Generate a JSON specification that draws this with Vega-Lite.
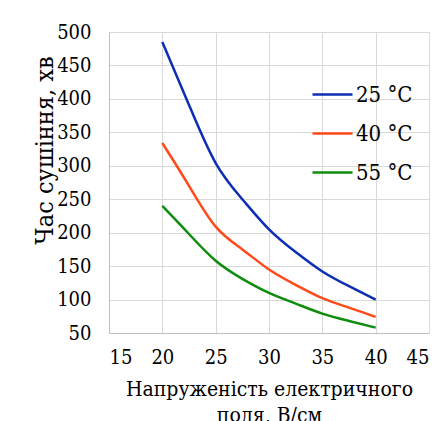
{
  "$schema": "https://vega.github.io/schema/vega-lite/v6.json",
  "width": 320,
  "height": 301,
  "autosize": {"type": "none"},
  "padding": {"left": 109, "top": 32, "right": 14, "bottom": 88},
  "background": "white",
  "config": {
    "font": "'DejaVu Serif Condensed', 'DejaVu Serif'",
    "view": {"stroke": null},
    "axis": {
      "gridColor": "#D9D9D9",
      "gridWidth": 1,
      "domainColor": "#BFBFBF",
      "domainWidth": 1,
      "ticks": false,
      "labelFont": "'DejaVu Serif Condensed', 'DejaVu Serif'",
      "titleFont": "'DejaVu Serif Condensed', 'DejaVu Serif'",
      "labelFontSize": 20,
      "titleFontSize": 21,
      "labelColor": "#000000",
      "titleColor": "#000000",
      "titleFontWeight": "normal"
    }
  },
  "data": {
    "values": [
      {"E": 20, "t": 485, "s": "25 °C"},
      {"E": 22.5, "t": 391, "s": "25 °C"},
      {"E": 25, "t": 304, "s": "25 °C"},
      {"E": 27.5, "t": 250, "s": "25 °C"},
      {"E": 30, "t": 205, "s": "25 °C"},
      {"E": 32.5, "t": 171, "s": "25 °C"},
      {"E": 35, "t": 142, "s": "25 °C"},
      {"E": 37.5, "t": 120, "s": "25 °C"},
      {"E": 40, "t": 100, "s": "25 °C"},
      {"E": 20, "t": 334, "s": "40 °C"},
      {"E": 22.5, "t": 270, "s": "40 °C"},
      {"E": 25, "t": 209, "s": "40 °C"},
      {"E": 27.5, "t": 175, "s": "40 °C"},
      {"E": 30, "t": 145, "s": "40 °C"},
      {"E": 32.5, "t": 122, "s": "40 °C"},
      {"E": 35, "t": 102, "s": "40 °C"},
      {"E": 37.5, "t": 88, "s": "40 °C"},
      {"E": 40, "t": 74, "s": "40 °C"},
      {"E": 20, "t": 240, "s": "55 °C"},
      {"E": 22.5, "t": 198, "s": "55 °C"},
      {"E": 25, "t": 158, "s": "55 °C"},
      {"E": 27.5, "t": 131, "s": "55 °C"},
      {"E": 30, "t": 110, "s": "55 °C"},
      {"E": 32.5, "t": 94, "s": "55 °C"},
      {"E": 35, "t": 79, "s": "55 °C"},
      {"E": 37.5, "t": 68, "s": "55 °C"},
      {"E": 40, "t": 58, "s": "55 °C"}
    ]
  },
  "mark": {"type": "line", "interpolate": "natural", "strokeWidth": 2.5},
  "encoding": {
    "x": {
      "field": "E",
      "type": "quantitative",
      "scale": {"domain": [15, 45], "nice": false, "zero": false},
      "axis": {
        "values": [15, 20, 25, 30, 35, 40, 45],
        "labelPadding": 14,
        "title": ["Напруженість електричного", "поля, В/см"],
        "titleBaseline": "alphabetic",
        "titleY": 62,
        "titleLineHeight": 26
      }
    },
    "y": {
      "field": "t",
      "type": "quantitative",
      "scale": {"domain": [50, 500], "nice": false, "zero": false},
      "axis": {
        "values": [50, 100, 150, 200, 250, 300, 350, 400, 450, 500],
        "labelPadding": 18,
        "title": "Час сушіння, хв",
        "titleFontSize": 25,
        "titleBaseline": "middle",
        "titleX": -65,
        "titleY": 118
      }
    },
    "color": {
      "field": "s",
      "type": "nominal",
      "scale": {"domain": ["25 °C", "40 °C", "55 °C"], "range": ["#0D2DB5", "#FF4A1A", "#0E8C0E"]},
      "legend": {
        "title": null,
        "orient": "none",
        "legendX": 202,
        "legendY": 41,
        "symbolType": "stroke",
        "symbolSize": 1600,
        "symbolStrokeWidth": 2.5,
        "labelFont": "'DejaVu Serif Condensed', 'DejaVu Serif'",
        "labelFontSize": 22,
        "labelColor": "#000000",
        "labelOffset": 2,
        "rowPadding": 6
      }
    }
  }
}
